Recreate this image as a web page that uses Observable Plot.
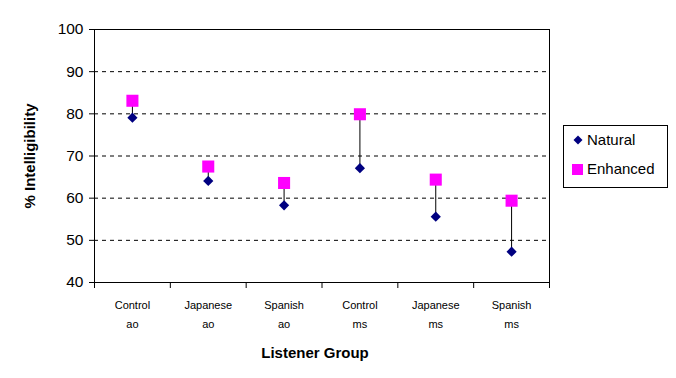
<!DOCTYPE html>
<html>
<head>
<meta charset="utf-8">
<script src="https://cdn.jsdelivr.net/npm/d3@7"></script>
<script src="https://cdn.jsdelivr.net/npm/@observablehq/plot@0.6"></script>
<style>
  html, body { margin: 0; padding: 0; background: #fff; }
  #wrap { position: relative; width: 676px; height: 378px; font-family: "Liberation Sans", Arial, sans-serif; }
  #legend { position: absolute; left: 563px; top: 125px; width: 103px; height: 61px; border: 1px solid #000; background: #fff; font-size: 15px; }
  .item { position: absolute; left: 8px; display: flex; align-items: center; }
  .item svg { margin-right: 3px; }
</style>
</head>
<body>
<div id="wrap"></div>
<script>
const groups = ["Control", "Japanese", "Spanish", "Control", "Japanese", "Spanish"];
const conditions = ["ao", "ao", "ao", "ms", "ms", "ms"];
const natural = [79.1, 64.1, 58.3, 67.1, 55.6, 47.3];
const enhanced = [83.1, 67.5, 63.6, 79.9, 64.4, 59.4];
const yTicks = [40, 50, 60, 70, 80, 90, 100];
const gridLines = [50, 60, 70, 80, 90];
const xBoundaries = [0, 1, 2, 3, 4, 5, 6];

const rows = groups.map((g, i) => ({
  pos: i + 0.5,
  label: g + "\n" + conditions[i],
  natural: natural[i],
  enhanced: enhanced[i]
}));

const font = "Liberation Sans, Arial, sans-serif";

const chart = Plot.plot({
  width: 676,
  height: 378,
  marginLeft: 94,
  marginRight: 127,
  marginTop: 29,
  marginBottom: 96,
  style: { fontFamily: font, background: "#fff", color: "#000" },
  x: { type: "linear", domain: [0, 6], axis: null },
  y: { type: "linear", domain: [40, 100], axis: null },
  marks: [
    Plot.ruleY(gridLines, { x1: 0, x2: 6, stroke: "#000", strokeDasharray: "4,4", strokeWidth: 1 }),
    Plot.ruleY([100, 40], { x1: 0, x2: 6, stroke: "#000", strokeWidth: 1 }),
    Plot.ruleX([0, 6], { y1: 40, y2: 100, stroke: "#000", strokeWidth: 1 }),
    Plot.ruleY(yTicks, { x1: 0, x2: 0, insetLeft: -5, stroke: "#000", strokeWidth: 1 }),
    Plot.text(yTicks, { x: 0, y: d => d, text: d => String(d), textAnchor: "end", dx: -11, fontSize: 15.5, fill: "#000" }),
    Plot.ruleX(xBoundaries, { y1: 40, y2: 40, insetBottom: -6, stroke: "#000", strokeWidth: 1 }),
    Plot.text(rows, { x: "pos", y: 40, text: "label", dy: 30, fontSize: 11, lineHeight: 1.75, fill: "#000" }),
    Plot.ruleX(rows, { x: "pos", y1: "natural", y2: "enhanced", stroke: "#000", strokeWidth: 1 }),
    Plot.dot(rows, { x: "pos", y: "enhanced", symbol: "square", fill: "#FF00FF", r: 6.8 }),
    Plot.dot(rows, { x: "pos", y: "natural", symbol: "diamond2", fill: "#000080", stroke: "none", r: 4.6 })
  ]
});

const wrap = document.getElementById("wrap");
wrap.appendChild(chart);

const ns = "http://www.w3.org/2000/svg";
const xt = document.createElementNS(ns, "text");
xt.setAttribute("x", 315); xt.setAttribute("y", 358);
xt.setAttribute("text-anchor", "middle");
xt.setAttribute("font-size", "15"); xt.setAttribute("font-weight", "bold");
xt.setAttribute("font-family", font);
xt.textContent = "Listener Group";
chart.appendChild(xt);
const yt = document.createElementNS(ns, "text");
yt.setAttribute("transform", "translate(35,156) rotate(-90)");
yt.setAttribute("text-anchor", "middle");
yt.setAttribute("font-size", "15"); yt.setAttribute("font-weight", "bold");
yt.setAttribute("font-family", font);
yt.textContent = "% Intelligibility";
chart.appendChild(yt);

const legend = document.createElement("div");
legend.id = "legend";
legend.innerHTML = `
  <div class="item" style="top:5px"><svg width="12" height="12"><path d="M6,1.5L10.5,6L6,10.5L1.5,6Z" fill="#000080"/></svg><span>Natural</span></div>
  <div class="item" style="top:34px"><svg width="12" height="12"><rect x="0" y="1" width="11" height="11" fill="#FF00FF"/></svg><span>Enhanced</span></div>`;
wrap.appendChild(legend);
</script>
</body>
</html>
